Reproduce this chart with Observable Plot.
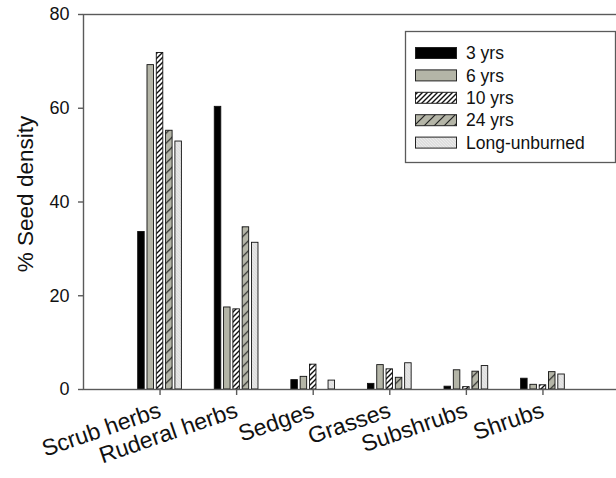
<!DOCTYPE html>
<html>
<head>
<meta charset="utf-8">
<script src="https://cdn.jsdelivr.net/npm/d3@7"></script>
<script src="https://cdn.jsdelivr.net/npm/@observablehq/plot@0.6"></script>
<style>
  html, body { margin: 0; padding: 0; background: white; overflow: hidden; }
  #wrap { position: relative; width: 616px; height: 478px; font-family: "Liberation Sans", Arial, sans-serif; }
  #legend { position: absolute; left: 0; top: 0; pointer-events: none; }
</style>
</head>
<body>
<svg width="0" height="0" style="position:absolute">
  <defs>
    <pattern id="p10" patternUnits="userSpaceOnUse" width="5" height="5">
      <rect width="5" height="5" fill="#ffffff"/>
      <path d="M-1,1 l2,-2 M0,5 l5,-5 M4,6 l2,-2" stroke="#111" stroke-width="1.4"/>
    </pattern>
    <pattern id="p24" patternUnits="userSpaceOnUse" width="10" height="10">
      <rect width="10" height="10" fill="#b4b5a7"/>
      <path d="M-1,1 l2,-2 M0,10 l10,-10 M9,11 l2,-2" stroke="#222" stroke-width="1.2"/>
    </pattern>
    <pattern id="pLU" patternUnits="userSpaceOnUse" width="3" height="3">
      <rect width="3" height="3" fill="#dedede"/>
      <path d="M0,0 l3,3" stroke="#efefef" stroke-width="0.8"/>
    </pattern>
  </defs>
</svg>
<div id="wrap"></div>
<script>
const categories = ["Scrub herbs", "Ruderal herbs", "Sedges", "Grasses", "Subshrubs", "Shrubs"];
const series = ["3 yrs", "6 yrs", "10 yrs", "24 yrs", "Long-unburned"];
const yrs3 = [33.6, 60.3, 2.0, 1.2, 0.6, 2.3];
const yrs6 = [69.2, 17.5, 2.7, 5.2, 4.1, 1.0];
const yrs10 = [71.8, 17.1, 5.3, 4.3, 0.5, 0.9];
const yrs24 = [55.2, 34.6, null, 2.5, 3.8, 3.7];
const longUnburned = [52.9, 31.3, 1.9, 5.6, 5.0, 3.2];
const yTicks = [0, 20, 40, 60, 80];
const yLabel = "% Seed density";
const fills = ["#000000", "#b4b5a7", "url(#p10)", "url(#p24)", "url(#pLU)"];

const seriesValues = [yrs3, yrs6, yrs10, yrs24, longUnburned];
const barStep = 9.3; // px between bars within a group

const axisColor = "#5a5a5a";
const font = "'Liberation Sans', Arial, sans-serif";

const barMarks = series.map((s, j) => {
  const rows = categories
    .map((c, i) => ({category: c, series: s, value: seriesValues[j][i]}))
    .filter(d => d.value != null);
  return Plot.barY(rows, {
    x: "category", y: "value", fill: fills[j], stroke: "#111", strokeWidth: 0.9,
    dx: (j - 2) * barStep
  });
});

const chart = Plot.plot({
  width: 616,
  height: 478,
  marginLeft: 83,
  marginRight: -3,
  marginTop: 14,
  marginBottom: 89,
  style: {fontFamily: font, background: "white"},
  x: {domain: categories, paddingInner: 0.915, paddingOuter: 0.957, align: 0.5, round: false, axis: null},
  y: {domain: [0, 80], axis: null},
  marks: [
    ...barMarks,
    Plot.frame({stroke: axisColor, strokeWidth: 1.4}),
    Plot.axisY({
      ticks: yTicks, tickSize: 5, tickPadding: 9, fontSize: 18, stroke: axisColor, strokeWidth: 1.4,
      color: "#111", label: null
    }),
    Plot.text([yLabel], {
      text: d => d, frameAnchor: "left", textAnchor: "middle", rotate: -90, dx: -58, dy: -8,
      fontSize: 22.5, fill: "#111"
    }),
    Plot.axisX({
      tickSize: 6, tickPadding: 14, tickRotate: -19, fontSize: 23, stroke: axisColor,
      strokeWidth: 1.4, color: "#111", label: null
    })
  ]
});

document.getElementById("wrap").appendChild(chart);

// Legend overlay
const lg = d3.select("#wrap").append("svg").attr("id", "legend").attr("width", 616).attr("height", 478);
lg.append("rect").attr("x", 405.5).attr("y", 31.5).attr("width", 210).attr("height", 131)
  .attr("fill", "white").attr("stroke", axisColor).attr("stroke-width", 1.3);
series.forEach((s, j) => {
  const cy = 53 + j * 22.4;
  lg.append("rect").attr("x", 415.5).attr("y", cy - 5.5).attr("width", 41).attr("height", 11)
    .attr("fill", fills[j]).attr("stroke", "#222").attr("stroke-width", 1);
  lg.append("text").attr("x", 466).attr("y", cy).attr("dy", "0.35em")
    .attr("font-size", 17.5).attr("fill", "#111")
    .attr("font-family", font).text(s);
});
</script>
</body>
</html>
